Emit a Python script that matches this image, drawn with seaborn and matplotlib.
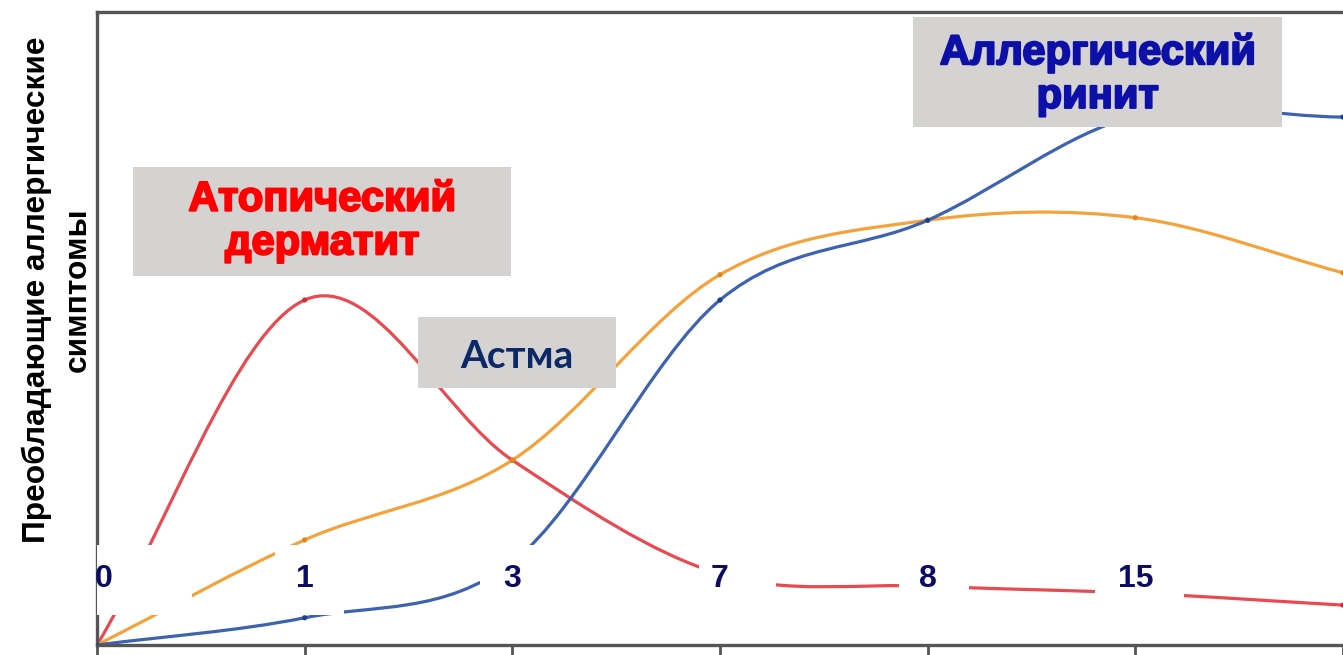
import numpy as np
import pandas as pd
import matplotlib
matplotlib.use("Agg")
import matplotlib.pyplot as plt
import matplotlib.patheffects as pe
from matplotlib.path import Path
from matplotlib.patches import PathPatch, Rectangle
import seaborn as sns

# age categories (years) along the x axis
tick_labels = ["0", "1", "3", "7", "8", "15", ""]
positions = list(range(len(tick_labels)))

# relative prevalence of symptoms (0..100)
dermatitis = [0, 54.5, 29.2, 11.2, 9.3, 8.2, 6.3]
asthma = [0, 16.6, 29.2, 58.5, 67.1, 67.5, 58.8]
rhinitis = [0, 4.3, 13.1, 54.5, 67.1, 83.6, 83.4]

series_names = ["Атопический дерматит", "Астма", "Аллергический ринит"]
line_colors = ["#e84a52", "#f4a33c", "#3d63ae"]
marker_colors = ["#c9303a", "#e0871c", "#1f3f8a"]

df = pd.DataFrame({
    "pos": positions * 3,
    "value": dermatitis + asthma + rhinitis,
    "series": sum([[n] * len(positions) for n in series_names], []),
})


def smooth_path(xs, ys):
    # excel-like smoothed line: bezier segments through every point
    pts = np.column_stack([xs, ys]).astype(float)
    n = len(pts)
    verts = [pts[0]]
    codes = [Path.MOVETO]
    for i in range(n - 1):
        p0, p1 = pts[i], pts[i + 1]
        c1 = p0 + (p1 - p0) / 3 if i == 0 else p0 + (p1 - pts[i - 1]) / 6
        c2 = p1 - (p1 - p0) / 3 if i == n - 2 else p1 - (pts[i + 2] - p0) / 6
        verts += [c1, c2, p1]
        codes += [Path.CURVE4] * 3
    return Path(verts, codes)


sns.set_style("white")
plt.rcParams["font.family"] = ["Liberation Sans", "DejaVu Sans"]

W, H = 1343, 655
fig = plt.figure(figsize=(W / 100, H / 100), dpi=100)
ax = fig.add_axes([97 / W, 10 / H, 1246 / W, 633 / H])

for name, col in zip(series_names, line_colors):
    sub = df[df["series"] == name]
    ax.add_patch(PathPatch(smooth_path(sub["pos"], sub["value"]), fc="none",
                           ec=col, lw=2.3, zorder=2, capstyle="round"))

sns.scatterplot(data=df, x="pos", y="value", hue="series", palette=marker_colors,
                s=14, edgecolor="none", legend=False, ax=ax, zorder=3)

ax.set_xlim(0, 1246 / 209.2)
ax.set_ylim(0, 100)
ax.set_xticks(positions)
ax.set_xticklabels([])
ax.set_yticks([])
ax.set_xlabel("")
ax.set_ylabel("")
ax.tick_params(axis="x", direction="out", length=7.5, width=2, color="#555555", bottom=True)
for side in ["left", "bottom", "top"]:
    ax.spines[side].set_color("#555555")
    ax.spines[side].set_linewidth(2.4)
ax.spines["right"].set_visible(False)


def px_box(x0, x1, y0, y1):
    # pixel extents of the reference -> axes fraction
    return (x0 - 97) / 1246, (645 - y1) / 633, (x1 - x0) / 1246, (y1 - y0) / 633


# white patches carrying the age labels
label_boxes = [(94, 192), (275, 344), (480, 560), (699, 776), (899, 969), (1095, 1184)]
for (bx0, bx1), pos, lab in zip(label_boxes, positions, tick_labels):
    x, y, w, h = px_box(bx0, bx1, 545, 615)
    ax.add_patch(Rectangle((x, y), w, h, transform=ax.transAxes, fc="white",
                           ec="none", zorder=5))
    ax.text(pos + (0.03 if pos == 0 else 0), 0.105, lab, transform=ax.get_xaxis_transform(),
            ha="center", va="center", fontsize=23, fontweight="bold",
            color="#0b0b66", zorder=6)

# grey captions of the three diseases
captions = [
    ("Атопический\nдерматит", "#ff0000", (133, 511, 167, 276), 30, "Liberation Sans", 1.5, 0),
    ("Астма", "#0c2866", (418, 616, 317, 388), 28, "Lato", 0, -0.006),
    ("Аллергический\nринит", "#0c10a8", (913, 1282, 17, 127), 30, "Liberation Sans", 1.5, -0.004),
]
for text, col, (x0, x1, y0, y1), fs, fam, stroke, dy in captions:
    x, y, w, h = px_box(x0, x1, y0, y1)
    ax.add_patch(Rectangle((x, y), w, h, transform=ax.transAxes, fc="#d5d2d2",
                           ec="none", zorder=5, clip_on=False))
    effects = [pe.withStroke(linewidth=stroke, foreground=col)] if stroke else []
    ax.text(x + w / 2, y + h / 2 + dy, text, transform=ax.transAxes, ha="center",
            va="center", color=col, fontsize=fs, fontweight="bold", family=[fam, "DejaVu Sans"],
            linespacing=1.12, zorder=6, path_effects=effects)

fig.text(57 / W, 1 - 290 / H, "Преобладающие аллергические\nсимптомы", rotation=90,
         ha="center", va="center", multialignment="center", fontsize=22.8,
         fontweight="bold", linespacing=1.45, color="black")

fig.savefig("out.png", dpi=100)
